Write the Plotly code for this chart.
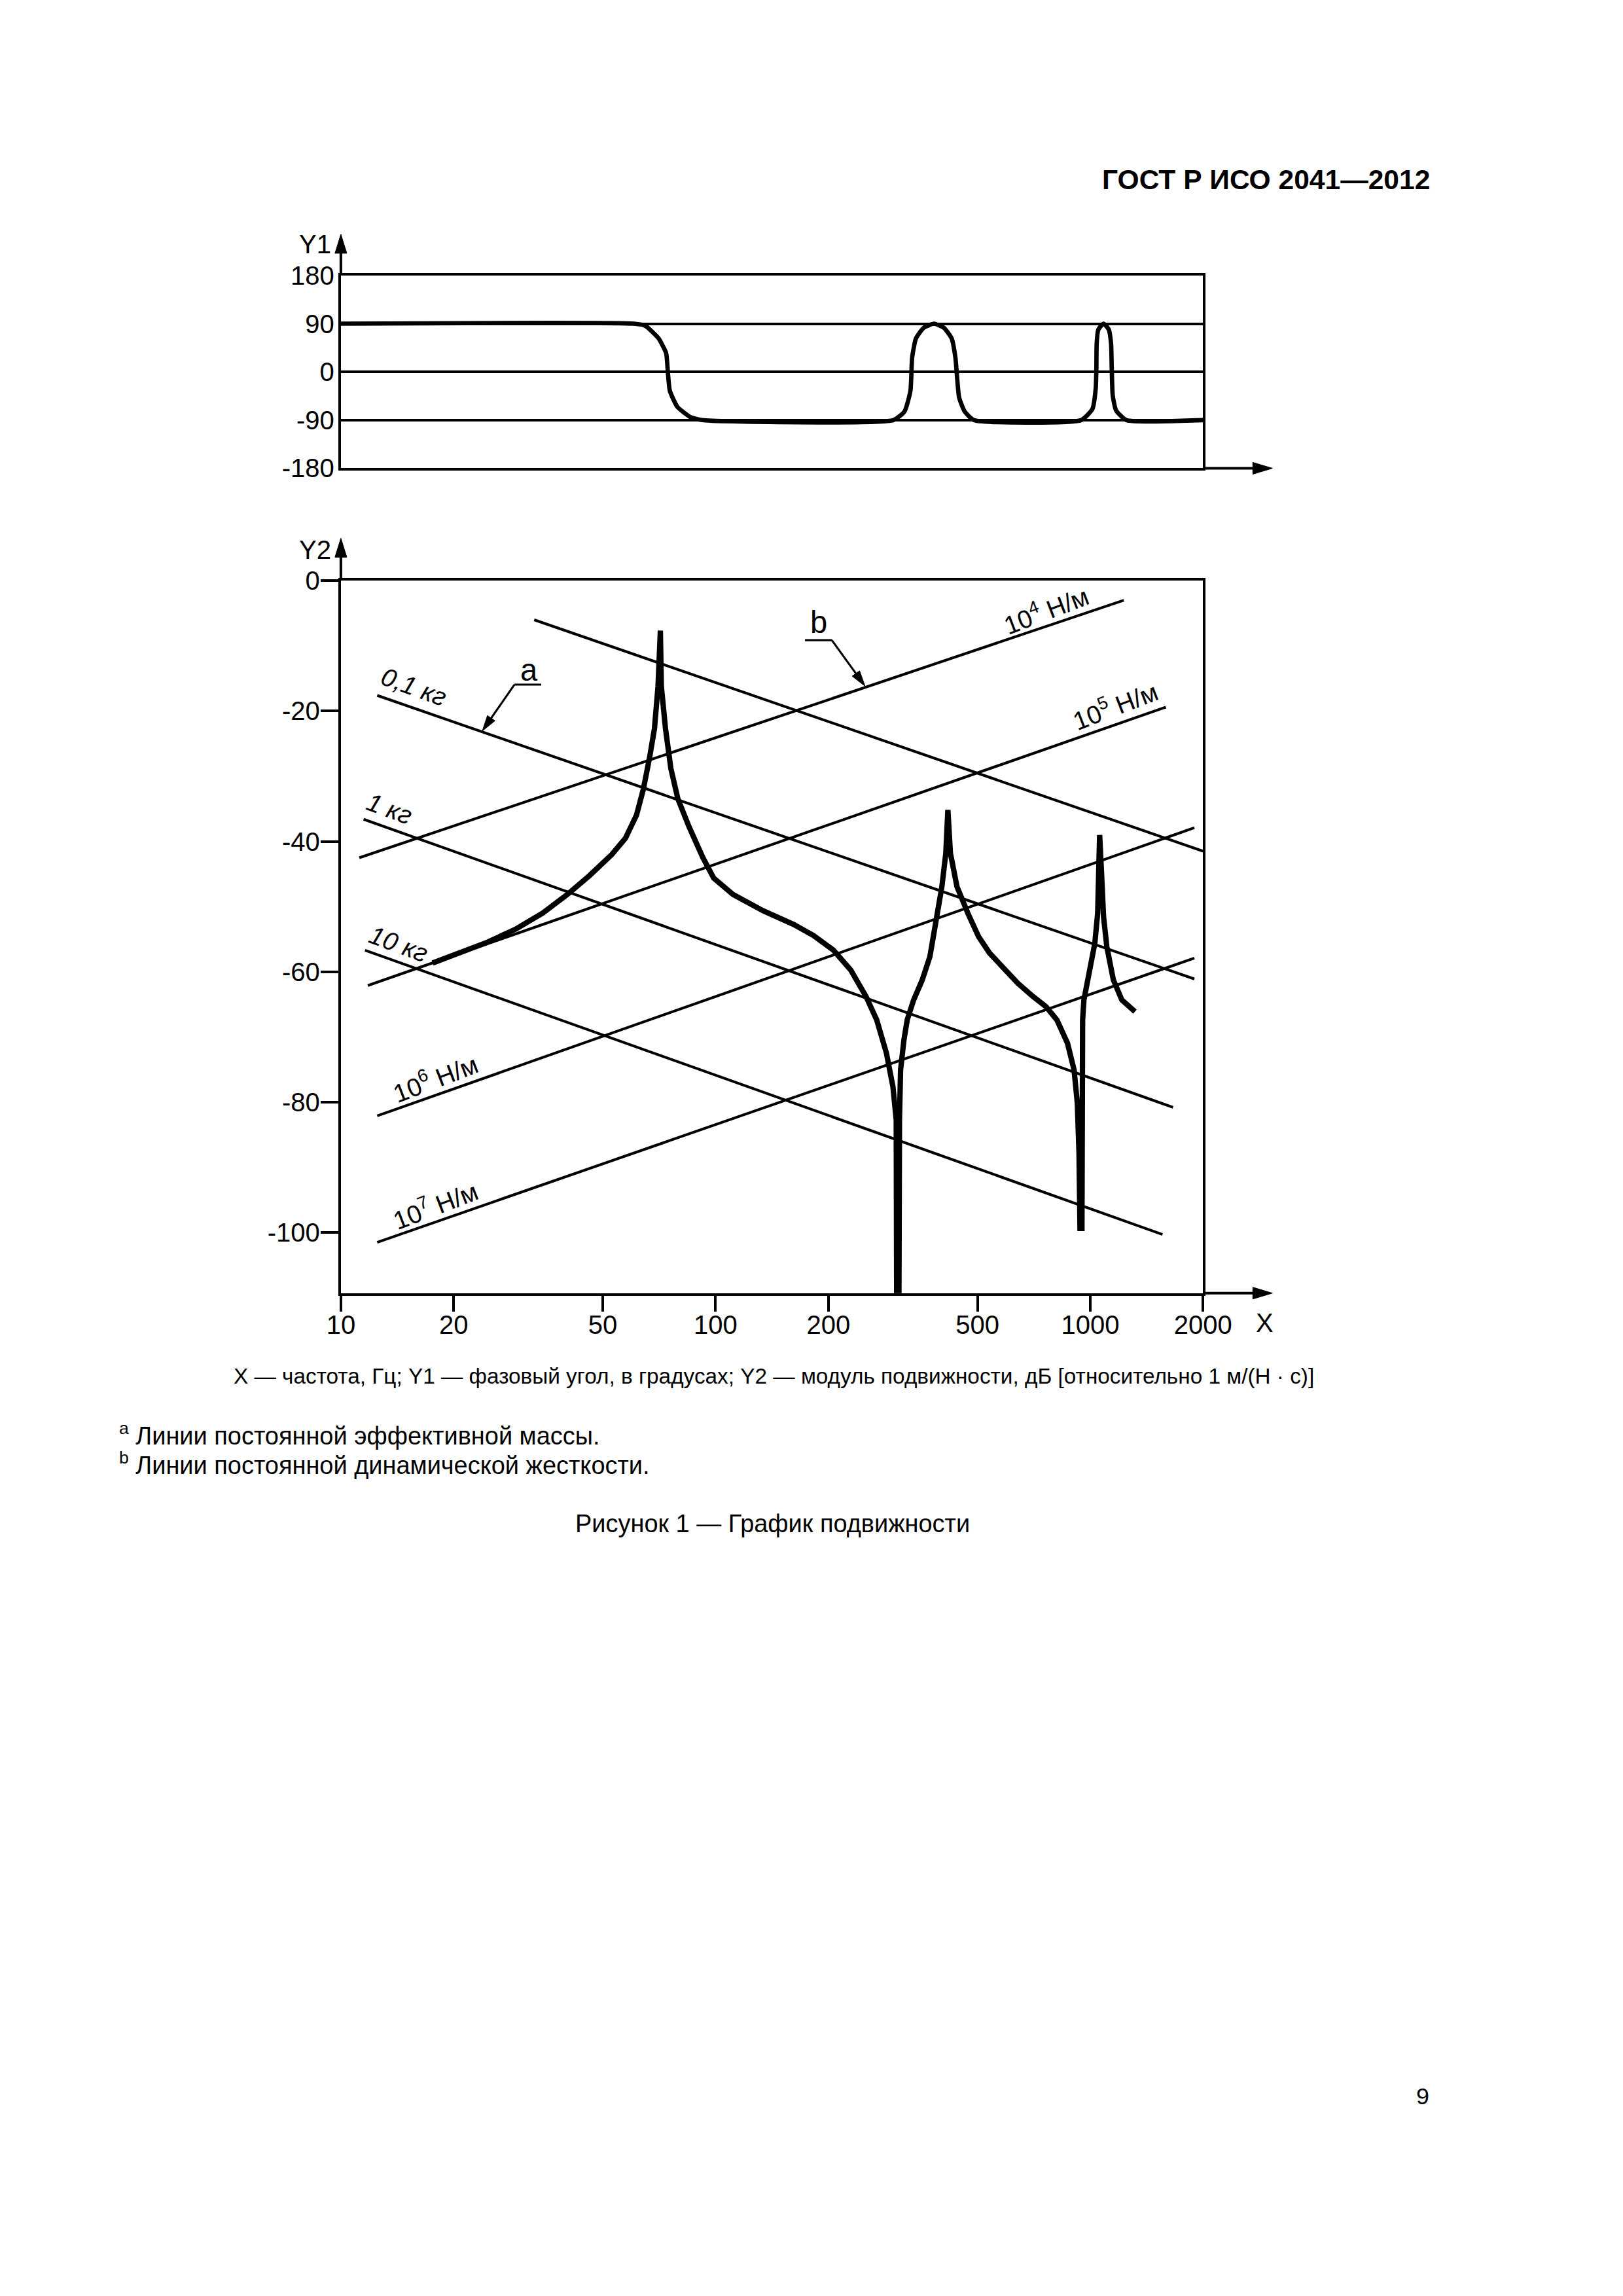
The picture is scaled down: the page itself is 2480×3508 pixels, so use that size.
import math
import plotly.graph_objects as go

# Page geometry.  The photographed page is slightly rescaled by the viewer
# (measured: X = 0.971*x + 22.5, Y = 0.988*y + 18.7); all target positions
# below are given in final picture pixels and are pre-compensated here.
OFF = 8
W, H = 2300, 3300
SX, CX = 0.971, 22.5
SY, CY = 0.988, 18.7
FS = 1 / 0.975          # font / stroke compensation
FONT = "Liberation Sans, Arial, sans-serif"

# ---------------- data ----------------
# Phase angle curve (Y1): frequency, Hz / angle, degrees
phase_f = [10, 60.6, 64.9, 70.4, 73.8, 74.6, 75.5, 79.1, 85.7, 91.8,
           298.4, 319.4, 331.2, 334.7, 342.6, 358.9, 382.8, 407.3, 426.7, 436.6,
           446.7, 462.5, 489.3, 946.4, 1013.5, 1034.0, 1038.3, 1040.2, 1050.8, 1085.2,
           1120.6, 1136.6, 1141.2, 1148.1, 1171.5, 1248.5, 2000]
phase_deg = [90, 90, 86.0, 62.8, 34.9, -1.3, -35.2, -65.5, -84.3, -90,
             -90, -73.8, -35.2, 26.7, 62.3, 82.0, 90, 82.0, 62.3, 26.7,
             -47.8, -74.3, -90, -90, -69.2, -31.5, 5.8, 52.3, 79, 90,
             79, 52, 5.8, -44, -71.7, -90, -90]

# Mobility modulus curve (Y2): frequency, Hz / level, dB
mob_f = [17.57, 20.80, 24.63, 29.20, 34.57, 40.23, 46.12, 52.83, 57.47, 61.52,
         64.16, 66.74, 68.70, 70.21, 71.23, 71.66, 73.50, 75.96, 79.30, 84.89,
         92.38, 98.86, 111.3, 134.0, 161.6, 182.6, 206.0, 229.4, 252.0, 269.2,
         285.8, 297.4, 303.5, 304.3, 308.6, 309.6, 311.7, 318.2, 324.7, 337.8,
         356.0, 373.3, 388.6, 401.8, 411.6, 416.9, 423.4, 440.8, 471.4, 503.4,
         538.9, 584.0, 640.8, 702.8, 761.6, 814.6, 869.6, 905.4, 923.7, 933.3,
         938.9, 950.2, 950.2, 954.1, 961.8, 994.8, 1028.5, 1046.6, 1056.8, 1059.3,
         1070.8, 1085.1, 1107.0, 1152.5, 1214.3, 1316.1]
mob_db = [-58.66, -57.05, -55.45, -53.49, -50.99, -48.13, -45.22, -42.01, -39.51, -35.95,
          -31.99, -26.97, -22.66, -16.24, -7.66, -16.24, -22.66, -28.78, -33.44, -37.70,
          -42.41, -45.62, -48.13, -50.64, -52.74, -54.45, -56.65, -59.72, -63.77, -67.38,
          -72.49, -77.61, -82.72, -109.3, -109.3, -82.72, -75.07, -70.47, -67.38, -64.32,
          -61.27, -57.66, -52.04, -46.93, -41.81, -35.16, -41.81, -46.93, -51.02, -54.60,
          -57.15, -59.20, -61.77, -63.77, -65.34, -67.38, -70.96, -75.05, -80.17, -87.84,
          -99.37, -99.37, -77.61, -67.38, -64.32, -60.22, -55.62, -51.02, -44.37, -39.01,
          -44.37, -51.54, -56.13, -61.24, -64.32, -66.11]

# Lines of constant effective mass (end points)
mass_labels = ["", "0,1 кг", "1 кг", "10 кг"]
mass_f0 = [32.8, 12.5, 11.5, 11.6]
mass_db0 = [-6.0, -17.6, -36.6, -56.7]
mass_f1 = [2000, 1896, 1663, 1559]
mass_db1 = [-41.5, -61.1, -80.8, -100.3]

# Lines of constant dynamic stiffness
stiff_labels = ["10<sup>4</sup> Н/м", "10<sup>5</sup> Н/м", "10<sup>6</sup> Н/м", "10<sup>7</sup> Н/м"]
stiff_f0 = [11.2, 11.8, 12.5, 12.5]
stiff_db0 = [-42.5, -62.1, -82.1, -101.5]
stiff_f1 = [1229, 1591, 1896, 1896]
stiff_db1 = [-3.0, -19.4, -37.9, -57.9]

x_ticks = [10, 20, 50, 100, 200, 500, 1000, 2000]
y1_ticks = [-180, -90, 0, 90, 180]
y2_ticks = [-100, -80, -60, -40, -20, 0]

# ---------------- layout geometry (target picture pixels) ----------------
PX_L, PX_R = 521, 1838
TOP_T, TOP_B = 418, 713
BOT_T, BOT_B = 885, 1975


def px(x):
    return ((x - CX) / SX - OFF) / W


def py(y):
    return 1 - ((y - CY) / SY - OFF) / H


def fs(v):
    return round(v * FS, 2)


XR = [1, math.log10(2000)]

fig = go.Figure()

fig.add_trace(go.Scatter(x=phase_f, y=phase_deg, mode="lines",
                         line=dict(color="black", width=fs(6.5), shape="spline", smoothing=0.5),
                         xaxis="x", yaxis="y", showlegend=False, hoverinfo="skip"))

for f0, d0, f1, d1 in zip(mass_f0, mass_db0, mass_f1, mass_db1):
    fig.add_trace(go.Scatter(x=[f0, f1], y=[d0, d1], mode="lines",
                             line=dict(color="black", width=fs(4)),
                             xaxis="x2", yaxis="y2", showlegend=False, hoverinfo="skip"))
for f0, d0, f1, d1 in zip(stiff_f0, stiff_db0, stiff_f1, stiff_db1):
    fig.add_trace(go.Scatter(x=[f0, f1], y=[d0, d1], mode="lines",
                             line=dict(color="black", width=fs(4)),
                             xaxis="x2", yaxis="y2", showlegend=False, hoverinfo="skip"))

fig.add_trace(go.Scatter(x=mob_f, y=mob_db, mode="lines",
                         line=dict(color="black", width=fs(8)),
                         xaxis="x2", yaxis="y2", showlegend=False, hoverinfo="skip"))

tickfont = dict(family=FONT, size=fs(39), color="black")
LW = fs(4)

fig.update_layout(
    width=W, height=H, autosize=False,
    margin=dict(l=0, r=0, t=0, b=0, pad=0),
    paper_bgcolor="white", plot_bgcolor="white",
    showlegend=False,
    xaxis=dict(type="log", range=XR, domain=[px(PX_L), px(PX_R)], anchor="y",
               showline=True, mirror=True, linecolor="black", linewidth=LW,
               showgrid=False, zeroline=False, ticks="", showticklabels=False),
    yaxis=dict(range=[-180, 180], domain=[py(TOP_B), py(TOP_T)], anchor="x",
               tickvals=y1_ticks, ticktext=[str(v) for v in y1_ticks],
               showline=True, mirror=True, linecolor="black", linewidth=LW,
               showgrid=True, gridcolor="black", gridwidth=fs(3.5), zeroline=False,
               ticks="", ticklabelstandoff=-2, tickfont=tickfont),
    xaxis2=dict(type="log", range=XR, domain=[px(PX_L), px(PX_R)], anchor="y2",
                tickvals=x_ticks, ticktext=[str(v) for v in x_ticks],
                showline=True, mirror=True, linecolor="black", linewidth=LW,
                showgrid=False, zeroline=False,
                ticks="outside", ticklen=24, tickwidth=LW, tickcolor="black",
                ticklabelstandoff=-14, tickfont=tickfont),
    yaxis2=dict(range=[-109.3, 0], domain=[py(BOT_B), py(BOT_T)], anchor="x2",
                tickvals=y2_ticks, ticktext=[str(v) for v in y2_ticks],
                showline=True, mirror=True, linecolor="black", linewidth=LW,
                showgrid=False, zeroline=False,
                ticks="outside", ticklen=27, tickwidth=LW, tickcolor="black",
                ticklabelstandoff=-7, tickfont=tickfont),
)

shapes = []
annotations = []


def pline(x0, y0, x1, y1, w=4):
    shapes.append(dict(type="line", xref="paper", yref="paper",
                       x0=px(x0), y0=py(y0), x1=px(x1), y1=py(y1),
                       line=dict(color="black", width=fs(w))))


def ppath(pts):
    d = "M " + " L ".join(f"{px(a):.6f},{py(b):.6f}" for a, b in pts) + " Z"
    shapes.append(dict(type="path", xref="paper", yref="paper", path=d,
                       fillcolor="black", line=dict(color="black", width=1)))


def leader(tail, tip, length=24, half=7, w=3):
    dx, dy = tip[0] - tail[0], tip[1] - tail[1]
    n = math.hypot(dx, dy)
    ux, uy = dx / n, dy / n
    bx, by = tip[0] - ux * length, tip[1] - uy * length
    pline(tail[0], tail[1], bx + ux * 4, by + uy * 4, w)
    ppath([(bx - uy * half, by + ux * half), (bx + uy * half, by - ux * half), tip])


# axis arrows
pline(PX_L, TOP_T, PX_L, 380)
ppath([(PX_L - 9, 384), (PX_L + 9, 384), (PX_L, 355)])
pline(PX_R, TOP_B, 1918, TOP_B)
ppath([(1914, TOP_B - 9), (1914, TOP_B + 9), (1944, TOP_B)])
pline(PX_L, BOT_T, PX_L, 845)
ppath([(PX_L - 9, 849), (PX_L + 9, 849), (PX_L, 820)])
pline(PX_R, BOT_B, 1918, BOT_B)
ppath([(1914, BOT_B - 9), (1914, BOT_B + 9), (1944, BOT_B)])


def ptext(text, x, y, size=39, xanchor="center", yanchor="middle", bold=False):
    annotations.append(dict(text=text, x=px(x), y=py(y), xref="paper", yref="paper",
                            showarrow=False, xanchor=xanchor, yanchor=yanchor,
                            font=dict(family=FONT, size=fs(size), color="black",
                                      weight="bold" if bold else "normal")))


ptext("Y1", 482, 370)
ptext("Y2", 482, 838)
ptext("X", 1932, 2020)

# line labels (positions given in data coordinates)
mass_lab_pos = [None, (15.67, -16.31), (13.47, -34.99), (14.28, -55.80)]
stiff_lab_pos = [(758.6, -4.31), (1162.0, -19.05), (17.85, -76.16), (17.85, -95.66)]
for lab, pos in zip(mass_labels, mass_lab_pos):
    if pos is None:
        continue
    annotations.append(dict(text=f"<i>{lab}</i>", x=math.log10(pos[0]), y=pos[1],
                            xref="x2", yref="y2", showarrow=False, textangle=20,
                            font=dict(family=FONT, size=fs(38), color="black")))
for lab, pos in zip(stiff_labels, stiff_lab_pos):
    annotations.append(dict(text=lab, x=math.log10(pos[0]), y=pos[1],
                            xref="x2", yref="y2", showarrow=False, textangle=-21,
                            font=dict(family=FONT, size=fs(38), color="black")))

# callouts "a" (constant mass) and "b" (constant stiffness)
pline(786, 1044, 827, 1044, 3)
leader((786, 1044), (737, 1115))
ptext("a", 809, 1021, size=46)
pline(1230, 976, 1271, 976, 3)
leader((1271, 976), (1321.7, 1046.4))
ptext("b", 1251, 948, size=46)

# page texts
ptext("ГОСТ Р ИСО 2041—2012", 2187, 271, size=41.5, xanchor="right", bold=True)
ptext("X — частота, Гц; Y1 — фазовый угол, в градусах; Y2 — модуль подвижности, дБ "
      "[относительно 1 м/(Н · с)]", 1182, 2102, size=32.5)
ptext("<sup>a</sup> Линии постоянной эффективной массы.", 180, 2191, size=37, xanchor="left")
ptext("<sup>b</sup> Линии постоянной динамической жесткости.", 180, 2236, size=37, xanchor="left")
ptext("Рисунок 1 — График подвижности", 1180, 2328, size=37)
ptext("9", 2174, 3204, size=35)

fig.update_layout(shapes=shapes, annotations=annotations)

fig.write_html("out.html", config={"displayModeBar": False})
